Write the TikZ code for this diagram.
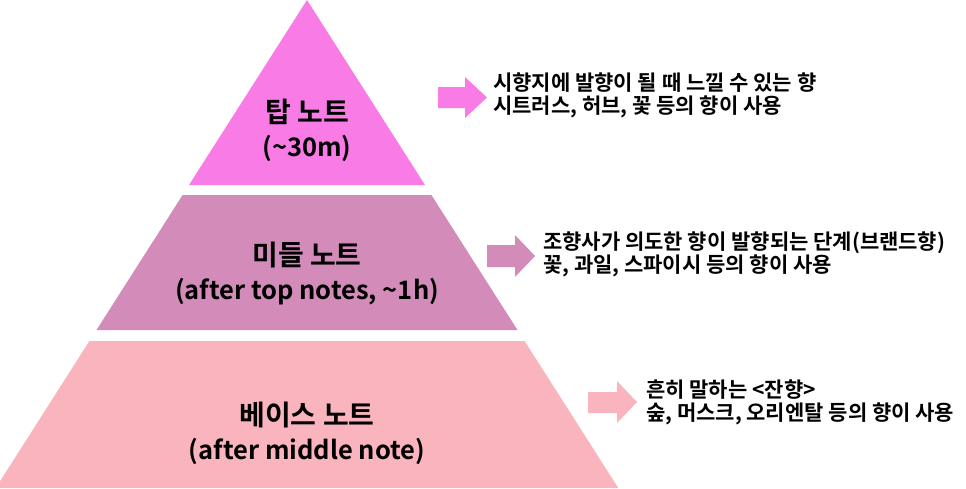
\documentclass[tikz,border=0pt]{standalone}
\usepackage{fontspec}
\setmainfont{Noto Sans CJK KR}[BoldFont={Noto Sans CJK KR Bold}]
\definecolor{topc}{RGB}{248,123,230}
\definecolor{midc}{RGB}{211,139,185}
\definecolor{basec}{RGB}{250,180,189}
\newcommand{\kline}[1]{{\fontsize{28}{34}\selectfont #1}}
\newcommand{\lline}[1]{{\fontsize{25.5}{34}\selectfont #1}}
\tikzset{
  band/.style={draw=none},
  pyrtext/.style={align=center,font=\bfseries\fontsize{26}{34}\selectfont,inner sep=0pt},
  desc/.style={anchor=west,align=left,font=\bfseries\fontsize{21}{23}\selectfont,inner sep=0pt},
  blockarrow/.style={draw=none}
}
\begin{document}
\begin{tikzpicture}[x=1pt,y=-1pt]
\useasboundingbox (0,0) rectangle (966,488);
\begin{scope}
\clip (0,0) rectangle (966,488);
% bands
\fill[band,topc] (307,0) -- (425,185) -- (189,185) -- cycle;
\fill[band,midc] (182.6,195) -- (431.4,195) -- (517.5,330) -- (96.5,330) -- cycle;
\fill[band,basec] (89.4,341) -- (524.6,341) -- (618.3,488) -- (-4.3,488) -- cycle;
\end{scope}
% pyramid labels
\node[pyrtext] (toplabel) at (307,130) {\kline{탑 노트}\\\lline{(\textasciitilde30m)}};
\node[pyrtext] (midlabel) at (307,273.5) {\kline{미들 노트}\\\lline{(after top notes, \textasciitilde1h)}};
\node[pyrtext] (baselabel) at (307,433.5) {\kline{베이스 노트}\\\lline{(after middle note)}};
% arrows
\fill[blockarrow,topc] (438,87) -- (465,87) -- (465,77) -- (487,97.5) -- (465,118) -- (465,108) -- (438,108) -- cycle;
\fill[blockarrow,midc] (487,245) -- (515,245) -- (515,235) -- (535,256) -- (515,277) -- (515,267) -- (487,267) -- cycle;
\fill[blockarrow,basec] (588,392) -- (617,392) -- (617,381) -- (637,402) -- (617,423) -- (617,413) -- (588,413) -- cycle;
% descriptions
\node[desc] (topdesc) at (493,95) {시향지에 발향이 될 때 느낄 수 있는 향\\시트러스, 허브, 꽃 등의 향이 사용};
\node[desc] (middesc) at (543,254) {조향사가 의도한 향이 발향되는 단계(브랜드향)\\꽃, 과일, 스파이시 등의 향이 사용};
\node[desc] (basedesc) at (646,402) {흔히 말하는 <잔향>\\숲, 머스크, 오리엔탈 등의 향이 사용};
\end{tikzpicture}
\end{document}
